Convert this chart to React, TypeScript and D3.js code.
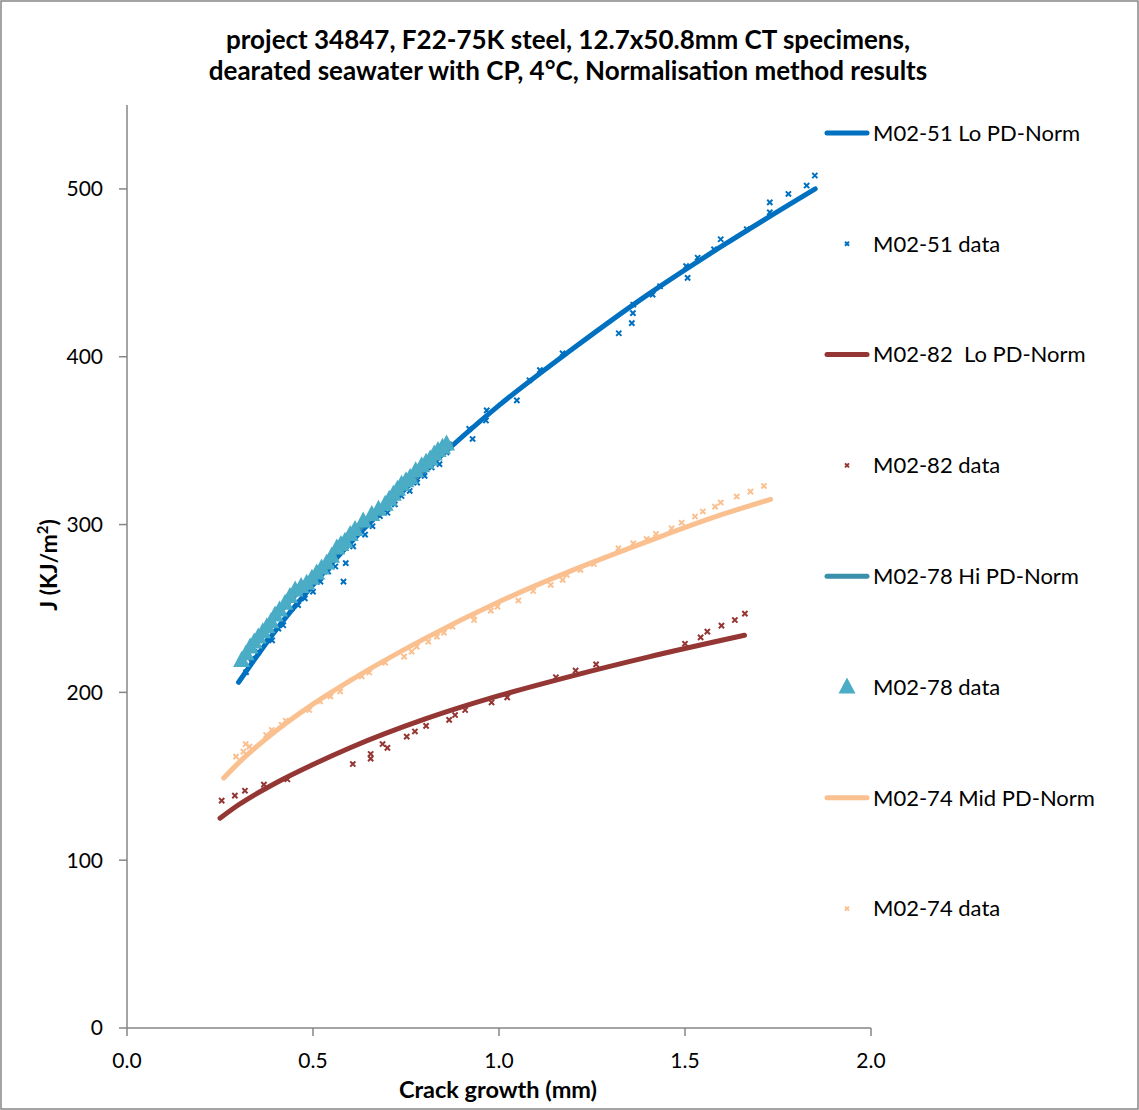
import React from "react";
import * as d3 from "d3";

const titleLines = [
  "project 34847, F22-75K steel, 12.7x50.8mm CT specimens,",
  "dearated seawater with CP, 4°C, Normalisation method results",
];
const xTicks = [0, 0.5, 1.0, 1.5, 2.0];
const yTicks = [0, 100, 200, 300, 400, 500];

// Fitted curves
const fit51X = [0.3, 0.4, 0.5, 0.6, 0.8, 1.0, 1.2, 1.4, 1.6, 1.85];
const fit51J = [206, 237, 264, 289, 332, 371, 405, 437, 466, 500];
const fit82X = [0.25, 0.3, 0.4, 0.5, 0.6, 0.8, 1.0, 1.2, 1.4, 1.66];
const fit82J = [125, 133, 146, 157, 167, 184, 198, 210, 221, 234];
const fit78X = [0.3, 0.4, 0.5, 0.6, 0.7, 0.8, 0.87];
const fit78J = [217, 245, 269, 292, 313, 333, 348];
const fit74X = [0.26, 0.3, 0.4, 0.5, 0.6, 0.8, 1.0, 1.2, 1.4, 1.6, 1.73];
const fit74J = [149, 158, 177, 193, 207, 232, 254, 273, 290, 306, 315];

// Measured data points [crack growth mm, J]
const data51: [number, number][] = [
  [0.32, 212], [0.335, 220], [0.353, 224], [0.376, 232], [0.39, 231], [0.407, 238],
  [0.42, 240], [0.443, 250], [0.46, 252], [0.478, 256], [0.5, 260], [0.52, 266],
  [0.541, 272], [0.56, 275], [0.582, 266], [0.588, 277], [0.608, 287], [0.64, 294],
  [0.66, 299], [0.68, 305], [0.7, 307], [0.72, 312], [0.738, 317], [0.76, 320],
  [0.78, 325], [0.8, 329], [0.819, 334], [0.84, 336], [0.859, 343],
  [0.92, 357], [0.929, 351], [0.965, 362], [0.967, 368], [1.048, 374], [1.082, 386],
  [1.11, 392], [1.171, 402],
  [1.322, 414], [1.357, 420], [1.36, 426], [1.361, 431], [1.413, 437], [1.433, 442],
  [1.503, 454], [1.507, 447], [1.534, 459], [1.578, 464], [1.596, 470], [1.666, 476],
  [1.728, 486], [1.728, 492], [1.778, 497], [1.827, 502], [1.849, 508],
];
const data82: [number, number][] = [
  [0.2545, 135.5], [0.29, 138.5], [0.317, 141.4], [0.368, 145], [0.431, 148.2],
  [0.607, 157.3], [0.655, 160.5], [0.655, 163.3], [0.687, 169.2], [0.7, 166.9],
  [0.752, 173.6], [0.774, 176.7], [0.804, 180], [0.866, 183.6], [0.882, 186.5],
  [0.909, 189.5], [0.98, 194], [1.022, 197], [1.153, 209], [1.206, 213], [1.261, 216.7],
  [1.5, 229], [1.542, 232.8], [1.56, 236.2], [1.598, 239.8], [1.634, 243.1], [1.661, 246.9],
];
const data78: [number, number][] = [
  [0.308, 219], [0.32, 223], [0.331, 227], [0.342, 230], [0.353, 233], [0.365, 236],
  [0.376, 239], [0.387, 242], [0.398, 246], [0.41, 249], [0.425, 253], [0.438, 257],
  [0.452, 261], [0.468, 263], [0.483, 265], [0.497, 268], [0.51, 271], [0.523, 274],
  [0.537, 277], [0.55, 281], [0.564, 286], [0.575, 288], [0.586, 290], [0.6, 294],
  [0.613, 297], [0.635, 302], [0.658, 306], [0.676, 309], [0.694, 312], [0.705, 315],
  [0.716, 318], [0.727, 321], [0.738, 324], [0.75, 326], [0.761, 328], [0.776, 332],
  [0.792, 335], [0.804, 337], [0.815, 339], [0.826, 342], [0.836, 344], [0.848, 346],
  [0.859, 348],
];
const data74: [number, number][] = [
  [0.293, 161.7], [0.313, 164.7], [0.319, 169.2], [0.329, 167.7], [0.374, 174.6],
  [0.389, 177.6], [0.416, 180.6], [0.427, 183.1], [0.49, 189.5], [0.519, 194.6],
  [0.547, 197.6], [0.573, 200.6], [0.631, 209.5], [0.651, 211.8], [0.694, 217.7],
  [0.745, 221.3], [0.765, 224.3], [0.779, 227.2], [0.81, 230.2], [0.833, 233.2],
  [0.852, 235.6], [0.875, 239.2], [0.933, 243.1], [0.933, 245.5], [0.978, 248.7],
  [0.996, 251.1], [1.052, 254.7], [1.092, 260.4], [1.139, 264], [1.171, 267],
  [1.182, 270], [1.219, 273], [1.255, 276.5], [1.321, 285.9], [1.361, 288.8],
  [1.397, 291.4], [1.422, 294.4], [1.464, 297.8], [1.491, 301.1], [1.527, 304.8],
  [1.548, 307.8], [1.581, 310.7], [1.596, 313.1], [1.639, 316.7], [1.676, 319.6],
  [1.712, 323],
];

const legendLabels = [
  "M02-51 Lo PD-Norm",
  "M02-51 data",
  "M02-82  Lo PD-Norm",
  "M02-82 data",
  "M02-78 Hi PD-Norm",
  "M02-78 data",
  "M02-74 Mid PD-Norm",
  "M02-74 data",
];

const C51 = "#0070C0";
const C82 = "#943634";
const C78L = "#3A8FAA";
const C78M = "#4BACC6";
const C74 = "#FAC090";

const W = 1139;
const H = 1110;
const FONT = "Lato, 'Open Sans', sans-serif";
const AXIS = "#868686";

const x = d3.scaleLinear().domain([0, 2]).range([127, 871]);
const y = d3.scaleLinear().domain([0, 550]).range([1028, 105]);

const line = d3
  .line<[number, number]>()
  .x((d) => x(d[0]))
  .y((d) => y(d[1]))
  .curve(d3.curveMonotoneX);

const zip = (xs: number[], js: number[]): [number, number][] => xs.map((v, i) => [v, js[i]]);

function XMark({ cx, cy, color, s = 2.6 }: { cx: number; cy: number; color: string; s?: number }) {
  return (
    <path
      d={`M${cx - s},${cy - s}L${cx + s},${cy + s}M${cx - s},${cy + s}L${cx + s},${cy - s}`}
      stroke={color}
      strokeWidth={2}
      fill="none"
    />
  );
}

function Tri({ cx, cy, color }: { cx: number; cy: number; color: string }) {
  const w = 8.5,
    h = 16;
  return (
    <path
      d={`M${cx},${cy - h * 0.6}L${cx + w},${cy + h * 0.4}L${cx - w},${cy + h * 0.4}Z`}
      fill={color}
    />
  );
}

export default function App() {
  const legY = (i: number) => 133 + i * 110.8;
  const fits = [
    { pts: zip(fit51X, fit51J), color: C51 },
    { pts: zip(fit82X, fit82J), color: C82 },
    { pts: zip(fit78X, fit78J), color: C78L },
    { pts: zip(fit74X, fit74J), color: C74 },
  ];
  return (
    <svg
      width={W}
      height={H}
      style={{ position: "absolute", left: 0, top: 0, background: "#fff" }}
      fontFamily={FONT}
    >
      <rect x={1} y={1} width={W - 2} height={H - 2} fill="#fff" stroke={AXIS} strokeWidth={1.5} />
      {titleLines.map((t, i) => (
        <text key={i} x={568} y={49 + i * 31} textAnchor="middle" fontWeight="bold" fontSize={26} fill="#000">
          {t}
        </text>
      ))}

      {/* axes */}
      <line x1={x(0)} x2={x(0)} y1={y(550)} y2={y(0)} stroke={AXIS} strokeWidth={1.5} />
      <line x1={x(0)} x2={x(2)} y1={y(0)} y2={y(0)} stroke={AXIS} strokeWidth={1.5} />
      {yTicks.map((t) => (
        <g key={"y" + t}>
          <line x1={x(0) - 8} x2={x(0)} y1={y(t)} y2={y(t)} stroke={AXIS} strokeWidth={1.5} />
          <text x={103} y={y(t)} dy="0.35em" textAnchor="end" fontSize={21} fill="#000">
            {t}
          </text>
        </g>
      ))}
      {xTicks.map((t) => (
        <g key={"x" + t}>
          <line x1={x(t)} x2={x(t)} y1={y(0)} y2={y(0) + 8} stroke={AXIS} strokeWidth={1.5} />
          <text x={x(t)} y={1068} textAnchor="middle" fontSize={21} fill="#000">
            {t.toFixed(1)}
          </text>
        </g>
      ))}
      <text x={498} y={1098} textAnchor="middle" fontWeight="bold" fontSize={23.5} fill="#000">
        Crack growth (mm)
      </text>
      <text
        transform={`translate(57,565) rotate(-90)`}
        textAnchor="middle"
        fontWeight="bold"
        fontSize={23}
        fill="#000"
      >
        J (KJ/m
        <tspan fontSize={15} dy={-9}>
          2
        </tspan>
        <tspan dy={9}>)</tspan>
      </text>

      {/* series in order */}
      <path d={line(fits[0].pts) || ""} stroke={C51} strokeWidth={5} fill="none" strokeLinecap="round" />
      {data51.map((d, i) => (
        <XMark key={"b" + i} cx={x(d[0])} cy={y(d[1])} color={C51} />
      ))}
      <path d={line(fits[1].pts) || ""} stroke={C82} strokeWidth={5} fill="none" strokeLinecap="round" />
      {data82.map((d, i) => (
        <XMark key={"r" + i} cx={x(d[0])} cy={y(d[1])} color={C82} />
      ))}
      <path d={line(fits[2].pts) || ""} stroke={C78L} strokeWidth={5} fill="none" strokeLinecap="round" />
      {data78.map((d, i) => (
        <Tri key={"t" + i} cx={x(d[0])} cy={y(d[1])} color={C78M} />
      ))}
      <path d={line(fits[3].pts) || ""} stroke={C74} strokeWidth={5} fill="none" strokeLinecap="round" />
      {data74.map((d, i) => (
        <XMark key={"o" + i} cx={x(d[0])} cy={y(d[1])} color={C74} />
      ))}

      {/* legend */}
      {legendLabels.map((lab, i) => {
        const cy = legY(i);
        let sym: React.ReactNode = null;
        if (i === 0) sym = <line x1={827} x2={867} y1={cy} y2={cy} stroke={C51} strokeWidth={5} strokeLinecap="round" />;
        if (i === 1) sym = <XMark cx={847} cy={cy} color={C51} s={2} />;
        if (i === 2) sym = <line x1={827} x2={867} y1={cy} y2={cy} stroke={C82} strokeWidth={5} strokeLinecap="round" />;
        if (i === 3) sym = <XMark cx={847} cy={cy} color={C82} s={2} />;
        if (i === 4) sym = <line x1={827} x2={867} y1={cy} y2={cy} stroke={C78L} strokeWidth={5} strokeLinecap="round" />;
        if (i === 5) sym = <Tri cx={847} cy={cy} color={C78M} />;
        if (i === 6) sym = <line x1={827} x2={867} y1={cy} y2={cy} stroke={C74} strokeWidth={5} strokeLinecap="round" />;
        if (i === 7) sym = <XMark cx={847} cy={cy} color={C74} s={2} />;
        return (
          <g key={"l" + i}>
            {sym}
            <text x={873} y={cy} dy="0.35em" fontSize={22} fill="#000" style={{ whiteSpace: "pre" }}>
              {lab}
            </text>
          </g>
        );
      })}
    </svg>
  );
}
